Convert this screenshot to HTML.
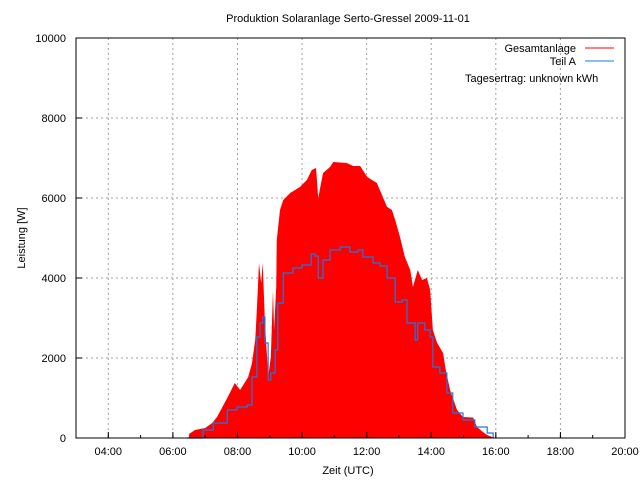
<!DOCTYPE html>
<html><head><meta charset="utf-8"><style>
body{margin:0;background:#fff}
svg{display:block;font-family:"Liberation Sans",sans-serif;font-size:11px}
</style></head><body>
<svg id="chart" width="640" height="480" viewBox="0 0 640 480">
<rect width="640" height="480" fill="#fff"/>
<g id="grid"></g>
<g id="series"></g>
<g id="axes"></g>
<text x="348" y="22" text-anchor="middle">Produktion Solaranlage Serto-Gressel 2009-11-01</text>
<text x="348" y="474" text-anchor="middle">Zeit (UTC)</text>
<text transform="translate(25,238) rotate(-90)" text-anchor="middle">Leistung [W]</text>
<g>
<text x="576" y="52" text-anchor="end">Gesamtanlage</text>
<line x1="585" y1="48" x2="614" y2="48" stroke="#ff0000" stroke-width="1"/>
<text x="576" y="65" text-anchor="end">Teil A</text>
<line x1="585" y1="61" x2="614" y2="61" stroke="#1e78e0" stroke-width="1"/>
<text x="465" y="82">Tagesertrag: unknown kWh</text>
</g>
</svg>
<script>
const xTickLabels=["04:00","06:00","08:00","10:00","12:00","14:00","16:00","18:00","20:00"];
const xTickMinutes=[240,360,480,600,720,840,960,1080,1200];
const yTicks=[0,2000,4000,6000,8000,10000];
const totalMinutes=[390,401,420,433,442,462,475,485,500,507,513,516,520,524,527,531,535,537,542,546,548,552,553,559,565,578,596,609,618,626,630,639,652,658,683,695,708,721,739,750,758,767,773,782,791,801,806,815,823,832,838,843,851,862,867,875,888,899,918,925,936,944,958];
const totalWatts=[100,200,250,375,525,1025,1375,1200,1525,1875,2450,3200,4375,3875,4375,2875,2025,1525,2025,3700,2700,3775,4950,5700,5950,6125,6275,6450,6700,6750,6000,6625,6775,6900,6875,6800,6800,6525,6375,6025,5775,5700,5450,5025,4525,4200,3775,4200,3950,4000,3700,2700,2375,2125,1700,1200,700,525,508,275,150,75,0];
const teilMinutes=[386,416,435,461,479,498,507,516,522,527,531,537,542,550,555,565,583,600,617,624,630,639,652,671,689,704,713,732,745,758,767,773,786,795,810,815,828,838,843,856,869,880,899,921,944,955];
const teilWatts=[0,200,375,700,775,825,1525,2525,2875,3025,2375,1450,1625,2200,3375,4125,4250,4325,4600,4550,4000,4450,4700,4775,4650,4700,4525,4375,4300,4000,4000,3400,3450,2875,2450,2875,2700,2525,1775,1625,1125,625,450,275,125,0];

const L=76,R=625,T=38,B=438,xMin=180,xMax=1200,yMax=10000;
const X=m=>L+(m-xMin)/(xMax-xMin)*(R-L);
const Y=v=>B-v/yMax*(B-T);
const NS="http://www.w3.org/2000/svg";
function mk(tag,parent,attrs){const e=document.createElementNS(NS,tag);for(const k in attrs)e.setAttribute(k,attrs[k]);parent.appendChild(e);return e;}
const grid=document.getElementById('grid'),axes=document.getElementById('axes'),series=document.getElementById('series');
xTickMinutes.forEach((m,i)=>{
  const x=X(m);
  if(m<xMax){const g=mk('line',grid,{x1:x,y1:T,x2:x,y2:B,stroke:'#a0a0a0','stroke-dasharray':'2,3'});
  
  }
  const tk=mk('line',axes,{x1:x,y1:B,x2:x,y2:B-6,stroke:'#000'});
  
  
  const t=mk('text',axes,{x:x,y:B+17,'text-anchor':'middle'});t.textContent=xTickLabels[i];
  
  
});
for(let m=xMin;m<=xMax;m+=60){const x=X(m);const mt=mk('line',axes,{x1:x,y1:B,x2:x,y2:B-3,stroke:'#000'});
  
  }
yTicks.forEach(v=>{
  const y=Y(v);
  if(v>0&&v<yMax){const g=mk('line',grid,{x1:L,y1:y,x2:R,y2:y,stroke:'#a0a0a0','stroke-dasharray':'2,3'});
  
  }
  const tk=mk('line',axes,{x1:L,y1:y,x2:L+6,y2:y,stroke:'#000'});
  
  
  const t=mk('text',axes,{x:L-10,y:y+4,'text-anchor':'end'});t.textContent=String(v);
  
  
});
let pts=[X(totalMinutes[0])+','+B];
totalMinutes.forEach((m,i)=>pts.push(X(m)+','+Y(totalWatts[i])));
pts.push(X(totalMinutes[totalMinutes.length-1])+','+B);
const area=mk('polygon',series,{points:pts.join(' '),fill:'#ff0000'});


let bp=[];
teilMinutes.forEach((m,i)=>{const x=X(m),y=Y(teilWatts[i]);if(i>0)bp.push(x+','+Y(teilWatts[i-1]));bp.push(x+','+y);});
const line=mk('polyline',series,{points:bp.join(' '),fill:'none',stroke:'#1e78e0','stroke-width':1.2});


const frame=mk('rect',axes,{x:L,y:T,width:R-L,height:B-T,fill:'none',stroke:'#000'});


</script>
</body></html>
